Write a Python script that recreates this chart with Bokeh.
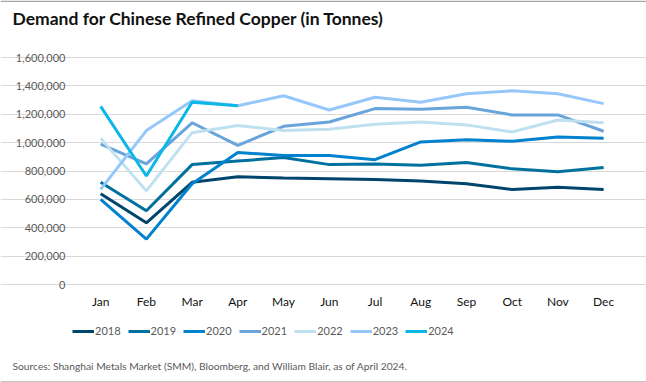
from bokeh.plotting import figure
from bokeh.models import Legend, LegendItem, FixedTicker, Label, Span, Grid
from bokeh.core.properties import value
from bokeh.embed import file_html
from bokeh.resources import INLINE

months = ["Jan", "Feb", "Mar", "Apr", "May", "Jun", "Jul", "Aug", "Sep", "Oct", "Nov", "Dec"]
y2018 = [640000, 435000, 720000, 760000, 750000, 745000, 740000, 730000, 710000, 670000, 685000, 670000]
y2019 = [720000, 520000, 845000, 870000, 895000, 845000, 850000, 840000, 860000, 815000, 795000, 825000]
y2020 = [600000, 320000, 710000, 930000, 910000, 910000, 880000, 1005000, 1020000, 1010000, 1040000, 1030000]
y2021 = [990000, 850000, 1140000, 980000, 1115000, 1145000, 1240000, 1235000, 1250000, 1195000, 1195000, 1080000]
y2022 = [1030000, 660000, 1070000, 1120000, 1085000, 1095000, 1130000, 1145000, 1125000, 1075000, 1160000, 1140000]
y2023 = [670000, 1085000, 1295000, 1260000, 1330000, 1230000, 1320000, 1285000, 1345000, 1365000, 1345000, 1275000]
y2024 = [1255000, 765000, 1285000, 1260000]
years = ["2018", "2019", "2020", "2021", "2022", "2023", "2024"]
series = [y2018, y2019, y2020, y2021, y2022, y2023, y2024]
colors = ["#00456b", "#00719f", "#0082cf", "#69a4db", "#bfe1ef", "#96c7fb", "#0bb7e6"]
y_ticks = [0, 200000, 400000, 600000, 800000, 1000000, 1200000, 1400000, 1600000]
y_tick_labels = [f"{v:,}" for v in y_ticks]
title_text = "Demand for Chinese Refined Copper (in Tonnes)"
source_text = "Sources: Shanghai Metals Market (SMM), Bloomberg, and William Blair, as of April 2024."

FONT = "Lato"
W, H = 646, 382

# layout geometry (pixels): plot area spans x 75..626, y 57..284
PX_L, PX_R, PX_T, PX_B = 75, 626, 57, 284
X_LO, X_HI = -0.55, 11.5          # category band limits of the plot area
Y_LO, Y_HI = 0, 1600000
xs_per_px = (X_HI - X_LO) / (PX_R - PX_L)
ys_per_px = (Y_HI - Y_LO) / (PX_B - PX_T)
x_range = (X_LO - PX_L * xs_per_px, X_HI + (W - PX_R) * xs_per_px)
y_range = (Y_LO - (H - PX_B) * ys_per_px, Y_HI + PX_T * ys_per_px)

p = figure(width=W, height=H, output_backend="svg", toolbar_location=None,
           x_range=x_range, y_range=y_range, x_axis_type=None, y_axis_type=None,
           min_border=0, min_border_left=0, min_border_right=0,
           min_border_top=0, min_border_bottom=0)
p.outline_line_color = None
p.background_fill_color = "white"

# horizontal gridlines
p.add_layout(Grid(dimension=1, ticker=FixedTicker(ticks=y_ticks), bounds=(X_LO, X_HI),
                  grid_line_color="#d9d9d9", grid_line_width=1))

# y tick labels
p.text(x=[X_LO] * len(y_ticks), y=y_ticks, text=y_tick_labels, x_offset=-10,
       text_align="right", text_baseline="middle", text_font=value(FONT),
       text_font_size="11px", text_color="#595959")
# x tick labels
p.text(x=list(range(len(months))), y=[Y_LO] * len(months), text=months, y_offset=17,
       text_align="center", text_baseline="middle", text_font=value(FONT),
       text_font_size="12px", text_color="#111111")

items = []
for yr, vals, c in zip(years, series, colors):
    r = p.line(list(range(len(vals))), vals, line_color=c, line_width=3)
    items.append(LegendItem(label=yr, renderers=[r]))

legend = Legend(items=items, orientation="horizontal", location=(72, 45),
                glyph_width=22, glyph_height=12, label_standoff=1, spacing=7,
                padding=0, margin=0, border_line_color=None, background_fill_alpha=0,
                label_text_font=FONT, label_text_font_size="11px", label_text_color="#595959")
p.add_layout(legend, "center")

p.add_layout(Label(x=12, y=H - 18, x_units="screen", y_units="screen", text=title_text,
                   text_font=FONT, text_font_style="bold", text_font_size="17.5px",
                   text_color="#111111", text_baseline="middle"))
p.add_layout(Label(x=12, y=H - 365, x_units="screen", y_units="screen", text=source_text,
                   text_font=FONT, text_font_size="10.25px", text_color="#595959",
                   text_baseline="middle"))

# thin frame rules at top and bottom of the card
p.add_layout(Span(location=y_range[1] - 0.75 * ys_per_px, dimension="width",
                  line_color="#a6a6a6", line_width=1.5))
p.add_layout(Span(location=y_range[0] + 0.5 * ys_per_px, dimension="width",
                  line_color="#c4c4c4", line_width=2))

open("out.html", "w").write(file_html(p, INLINE))
